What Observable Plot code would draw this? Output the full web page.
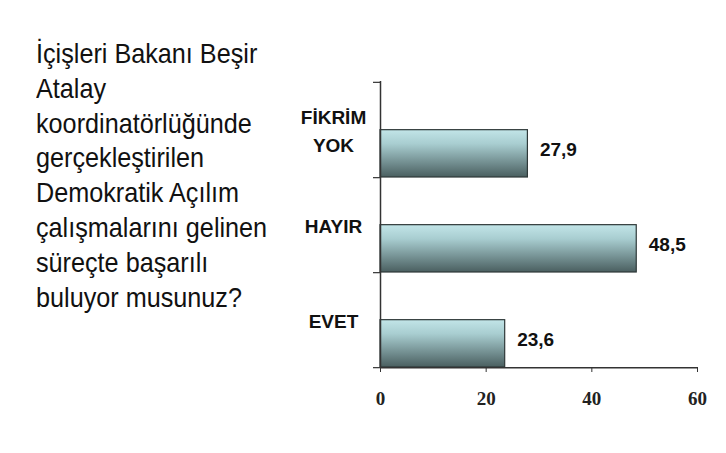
<!DOCTYPE html>
<html><head><meta charset="utf-8">
<script src="https://cdn.jsdelivr.net/npm/d3@7"></script>
<script src="https://cdn.jsdelivr.net/npm/@observablehq/plot@0.6"></script>
<style>
html,body{margin:0;padding:0;background:#fff;}
#wrap{position:relative;width:726px;height:453px;overflow:hidden;background:#fff;}
#q{position:absolute;left:36px;top:37px;font-family:"Liberation Sans",Arial,sans-serif;font-size:28px;line-height:34.8px;color:#111;white-space:nowrap;transform:scaleX(0.9);transform-origin:0 0;}
#chart{position:absolute;left:0;top:0;}
</style></head><body>
<div id="wrap"><div id="chart"></div><div id="q"></div></div>
<script>
const questionLines = ["İçişleri Bakanı Beşir","Atalay","koordinatörlüğünde","gerçekleştirilen","Demokratik Açılım","çalışmalarını gelinen","süreçte başarılı","buluyor musunuz?"];
const categories = ["FİKRİM\nYOK","HAYIR","EVET"];
const values = [27.9, 48.5, 23.6];
const valueLabels = ["27,9","48,5","23,6"];
const xTicks = [0, 20, 40, 60];
const xDomain = [0, 60];

document.getElementById("q").innerHTML = questionLines.map(s => `<div>${s}</div>`).join("");

const W = 726, H = 453, mL = 380, mR = 29, mT = 81, mB = 86;
const bandH = (H - mT - mB) / categories.length;
const tickLenUnits = 7 * (xDomain[1] - xDomain[0]) / (W - mL - mR);
const data = categories.map((c, i) => ({c, v: values[i], label: valueLabels[i]}));

const defs = () => {
  const d = d3.create("svg:defs");
  const g = d.append("linearGradient").attr("id", "barGrad").attr("x1", 0).attr("y1", 0).attr("x2", 0).attr("y2", 1);
  g.append("stop").attr("offset", "0%").attr("stop-color", "#c2e5e8");
  g.append("stop").attr("offset", "30%").attr("stop-color", "#a8cdd0");
  g.append("stop").attr("offset", "100%").attr("stop-color", "#4a5f60");
  return d.node();
};

const chart = Plot.plot({
  width: W, height: H,
  marginLeft: mL, marginRight: mR, marginTop: mT, marginBottom: mB,
  style: {background: "transparent", fontFamily: "'Liberation Sans', Arial, sans-serif", fontSize: "18px", color: "#222", overflow: "visible"},
  x: {domain: xDomain, ticks: xTicks, axis: null},
  y: {domain: categories, padding: 0, axis: null},
  marks: [
    defs,
    Plot.barX(data, {x: "v", y: "c", fill: "url(#barGrad)", stroke: "#2e3838", strokeWidth: 1.2, insetTop: bandH / 2}),
    Plot.ruleX([0], {stroke: "#333", strokeWidth: 1.5}),
    Plot.ruleY(categories, {y: d => d, dy: bandH / 2, x1: -tickLenUnits, x2: 0, stroke: "#333", strokeWidth: 1.2}),
    Plot.ruleY([categories[0]], {y: d => d, dy: -bandH / 2, x1: -tickLenUnits, x2: 0, stroke: "#333", strokeWidth: 1.2}),
    Plot.ruleY([categories[categories.length - 1]], {y: d => d, dy: bandH / 2, x1: 0, x2: xDomain[1], stroke: "#333", strokeWidth: 1.5}),
    Plot.axisX({ticks: xTicks, label: null, tickSize: 5, tickPadding: 19, stroke: "#333", fill: "#222", fontFamily: "'Liberation Serif', 'Times New Roman', serif", fontWeight: "bold", fontSize: 19, tickFormat: d => String(d)}),
    Plot.text(data, {x: () => 0, y: "c", text: "c", textAnchor: "middle", dx: -47, dy: -1, lineHeight: 1.5, fontWeight: "bold", fontSize: 19, fill: "#111"}),
    Plot.text(data, {x: "v", y: "c", text: "label", textAnchor: "start", dx: 12, dy: bandH / 4 - 4, fontWeight: "bold", fontSize: 19, fill: "#111"})
  ]
});
document.getElementById("chart").appendChild(chart);
</script>
</body></html>
